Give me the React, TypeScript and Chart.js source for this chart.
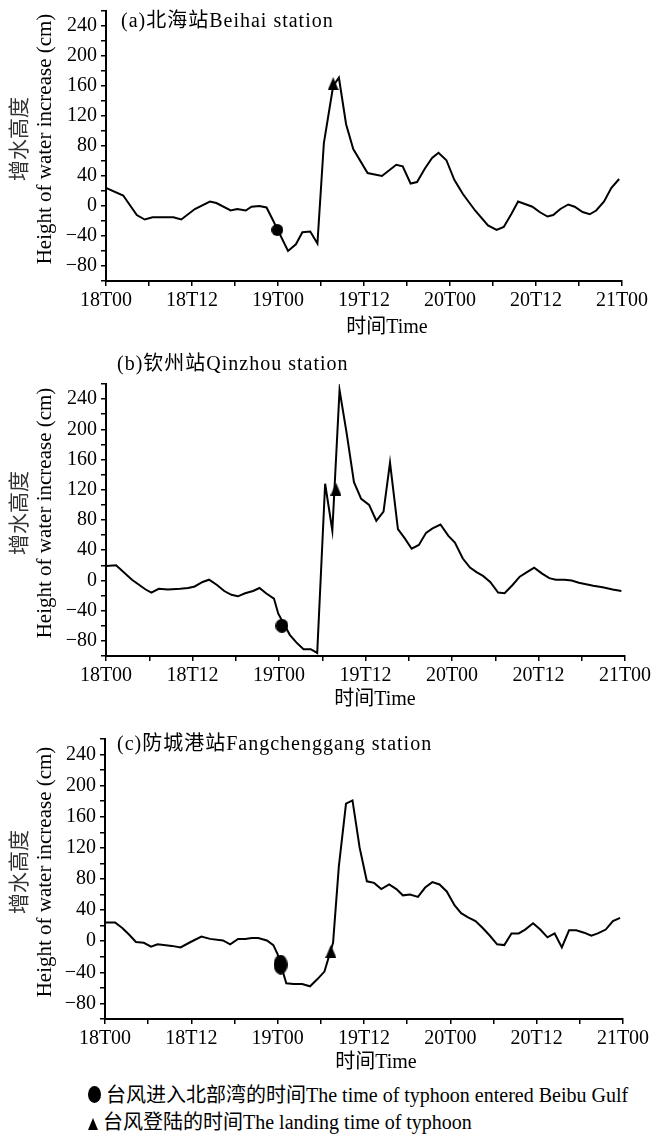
import React, { useEffect, useRef } from 'react';
import { Chart, registerables } from 'chart.js';

Chart.register(...registerables);

// ---------- data (hours after 18T00, surge in cm) ----------
const hoursA = [0, 2.4, 4.3, 5.4, 6.5, 9.4, 10.5, 12.4, 14.5, 15.4, 17.4, 18.3, 19.5, 20.3, 21.4, 22.4, 23.3, 25.4, 26.5, 27.4, 28.5, 29.5, 30.4, 31.7, 32.5, 33.5, 34.5, 36.5, 38.5, 40.5, 41.4, 42.5, 43.4, 44.5, 45.5, 46.4, 47.5, 48.6, 49.8, 51.5, 53.3, 54.5, 55.5, 56.6, 57.5, 59.5, 60.5, 61.6, 62.4, 63.4, 64.5, 65.4, 66.5, 67.5, 68.4, 69.5, 70.5, 71.6];
const surgeA = [24, 14, -12, -18, -15, -15, -18, -4, 6, 4, -6, -4, -6, -1, 0, -2, -19, -60, -51, -35, -34, -50, 84, 160, 171, 109, 76, 44, 40, 55, 53, 30, 32, 50, 64, 71, 61, 35, 16, -6, -26, -32, -28, -10, 6, -1, -8, -14, -12, -4, 2, -1, -8, -11, -6, 6, 24, 36];

const hoursB = [0, 1.4, 3.6, 5.5, 6.3, 7.3, 8.6, 10.3, 11.4, 12.3, 13.4, 14.3, 15.4, 16.4, 17.4, 18.3, 19.3, 20.4, 21.3, 22.2, 23.3, 23.9, 25.5, 26.4, 27.4, 28.4, 29.3, 30.4, 31.4, 32.4, 33.4, 34.4, 35.4, 36.5, 37.5, 38.5, 39.4, 40.5, 41.5, 42.4, 43.4, 44.4, 45.3, 46.4, 47.5, 48.4, 49.5, 50.5, 51.4, 52.3, 53.3, 54.4, 55.3, 56.4, 57.4, 58.4, 59.4, 60.5, 61.5, 62.4, 63.6, 64.6, 65.6, 66.6, 67.6, 68.9, 70.3, 71.5];
const surgeB = [19, 20, 1, -12, -16, -11, -12, -11, -10, -8, -2, 1, -6, -14, -19, -21, -17, -14, -10, -17, -24, -44, -72, -82, -91, -91, -96, 128, 66, 252, 194, 130, 108, 100, 79, 91, 156, 68, 55, 42, 47, 63, 69, 74, 59, 50, 29, 17, 11, 6, -2, -16, -17, -6, 5, 11, 17, 9, 3, 1, 1, 0, -3, -5, -7, -9, -12, -14];

const hoursC = [0, 1.4, 2.4, 3.3, 4.3, 5.4, 6.4, 7.3, 9.3, 10.5, 11.9, 13.4, 14.6, 16.4, 17.4, 18.5, 19.5, 20.4, 21.3, 22.5, 23.4, 24, 25.2, 26.2, 27.4, 28.5, 29.5, 30.5, 31.7, 32.5, 33.5, 34.4, 35.4, 36.4, 37.4, 38.4, 39.5, 40.5, 41.4, 42.4, 43.5, 44.5, 45.5, 46.5, 47.5, 48.6, 49.5, 50.4, 51.5, 52.5, 53.5, 54.5, 55.5, 56.5, 57.5, 58.4, 59.5, 60.5, 61.5, 62.5, 63.5, 64.5, 65.5, 66.6, 67.6, 68.5, 69.6, 70.6, 71.6];
const surgeC = [24, 24, 17, 9, -1, -2, -7, -4, -6, -8, -1, 6, 3, 1, -4, 3, 3, 4, 4, 1, -5, -17, -54, -55, -55, -58, -49, -39, -2, 96, 177, 181, 120, 77, 75, 67, 73, 67, 59, 60, 57, 69, 76, 73, 64, 46, 36, 31, 26, 17, 7, -4, -5, 10, 10, 15, 23, 15, 5, 10, -8, 14, 14, 11, 7, 10, 15, 26, 30];

// typhoon event markers per station (a, b, c)
const enterHours = [23.9, 24.4, 24.4];
const enterValues = [-32, -60, -30];
const landHours = [31.7, 31.9, 31.4];
const landValues = [163, 121, -13];

const xTickLabels = ['18T00', '18T12', '19T00', '19T12', '20T00', '20T12', '21T00'];
const yLabelMin = -80;
const yLabelMax = 240;
const panelTitles = ['(a)北海站Beihai station', '(b)钦州站Qinzhou station', '(c)防城港站Fangchenggang station'];
const xTitle = '时间Time';
const yTitleCn = '增水高度';
const yTitleEn = 'Height of water increase (cm)';
const legendEnter = '台风进入北部湾的时间The time of typhoon entered Beibu Gulf';
const legendLand = '台风登陆的时间The landing time of typhoon';

const FONT_FAMILY = '"Liberation Serif", "Noto Sans CJK SC", serif';

type Layout = {
  top: number; height: number; areaTop: number; areaBottom: number; left: number; right: number;
  titleX: number; titleY: number; xTitleX: number; xTitleY: number;
  circleW: number; circleH: number;
};

const layouts: Layout[] = [
  { top: 0, height: 340, areaTop: 11, areaBottom: 281, left: 106, right: 622, titleX: 121, titleY: 22, xTitleX: 387, xTitleY: 328, circleW: 12, circleH: 12 },
  { top: 340, height: 370, areaTop: 44, areaBottom: 316, left: 106, right: 625, titleX: 117, titleY: 25, xTitleX: 375, xTitleY: 360, circleW: 13, circleH: 14 },
  { top: 710, height: 365, areaTop: 29, areaBottom: 309, left: 105, right: 623, titleX: 117, titleY: 35, xTitleX: 376, xTitleY: 353, circleW: 14, circleH: 20 },
];

const series = [
  { hours: hoursA, surge: surgeA },
  { hours: hoursB, surge: surgeB },
  { hours: hoursC, surge: surgeC },
];

function makeEllipse(w: number, h: number) {
  const c = document.createElement('canvas');
  c.width = w; c.height = h;
  const g = c.getContext('2d')!;
  g.fillStyle = '#000';
  g.beginPath();
  g.ellipse(w / 2, h / 2, w / 2, h / 2, 0, 0, Math.PI * 2);
  g.fill();
  return c;
}

function makeTriangle(w: number, h: number) {
  const c = document.createElement('canvas');
  c.width = w; c.height = h;
  const g = c.getContext('2d')!;
  g.fillStyle = '#000';
  g.beginPath();
  g.moveTo(w / 2, 0);
  g.lineTo(w, h);
  g.lineTo(0, h);
  g.closePath();
  g.fill();
  return c;
}

function Panel({ idx }: { idx: number }) {
  const ref = useRef<HTMLCanvasElement | null>(null);
  const L = layouts[idx];
  useEffect(() => {
    const canvas = ref.current;
    if (!canvas) return;
    const s = series[idx];
    const tickFont = { family: FONT_FAMILY, size: 20 };
    const textPlugin = {
      id: 'panelTexts',
      afterDraw(chart: any) {
        const ctx = chart.ctx as CanvasRenderingContext2D;
        const a = chart.chartArea;
        ctx.save();
        ctx.fillStyle = '#000';
        ctx.font = `20px ${FONT_FAMILY}`;
        ctx.textBaseline = 'middle';
        ctx.textAlign = 'left';
        (ctx as any).letterSpacing = '1px';
        ctx.fillText(panelTitles[idx], L.titleX, L.titleY);
        (ctx as any).letterSpacing = '0px';
        ctx.textAlign = 'center';
        ctx.fillText(xTitle, L.xTitleX, L.xTitleY);
        const cy = (a.top + a.bottom) / 2 - 7;
        ctx.translate(20, cy);
        ctx.rotate(-Math.PI / 2);
        ctx.font = `21px ${FONT_FAMILY}`;
        ctx.fillStyle = '#333';
        ctx.fillText(yTitleCn, 0, 0);
        ctx.fillStyle = '#000';
        ctx.fillText(yTitleEn, 0, 25);
        ctx.restore();
      },
    };
    const chart = new Chart(canvas, {
      type: 'line',
      data: {
        datasets: [
          {
            data: s.hours.map((h, i) => ({ x: h, y: s.surge[i] })),
            borderColor: '#000',
            borderWidth: 2,
            pointRadius: 0,
            tension: 0,
            fill: false,
          },
          {
            type: 'scatter',
            data: [{ x: enterHours[idx], y: enterValues[idx] }],
            pointStyle: makeEllipse(L.circleW, L.circleH) as any,
            pointRadius: 7,
          },
          {
            type: 'scatter',
            data: [{ x: landHours[idx], y: landValues[idx] }],
            pointStyle: makeTriangle(11, 13) as any,
            pointRadius: 7,
          },
        ] as any,
      },
      options: {
        animation: false,
        responsive: false,
        maintainAspectRatio: false,
        layout: { padding: { top: L.areaTop, right: 655 - L.right, bottom: 0, left: 0 } },
        plugins: { legend: { display: false }, tooltip: { enabled: false }, title: { display: false } },
        scales: {
          x: {
            type: 'linear',
            min: 0,
            max: 72,
            ticks: {
              stepSize: 6,
              maxTicksLimit: 100,
              autoSkip: false,
              maxRotation: 0,
              padding: 3,
              color: '#000',
              font: tickFont,
              callback: (v: any) => (Number(v) % 12 === 0 ? xTickLabels[Number(v) / 12] : ''),
            },
            grid: { drawOnChartArea: false, drawTicks: true, tickLength: 5, color: '#000', lineWidth: 1.5 },
            border: { display: true, color: '#000', width: 2 },
            afterFit: (sc: any) => {
              sc.height = L.height - L.areaBottom;
              sc.paddingLeft = 0;
              sc.paddingRight = 0;
            },
          },
          y: {
            type: 'linear',
            min: -100,
            max: 260,
            ticks: {
              stepSize: 20,
              maxTicksLimit: 100,
              autoSkip: false,
              padding: 4,
              color: '#000',
              font: tickFont,
              callback: (v: any) => {
                const n = Number(v);
                if (n % 40 !== 0 || n < yLabelMin || n > yLabelMax) return '';
                return n < 0 ? '\u2212' + Math.abs(n) : String(n);
              },
            },
            grid: { drawOnChartArea: false, drawTicks: true, tickLength: 5, color: '#000', lineWidth: 1.5 },
            border: { display: true, color: '#000', width: 2 },
            afterFit: (sc: any) => {
              sc.width = L.left;
              sc.paddingTop = 0;
              sc.paddingBottom = 0;
            },
          },
        },
      } as any,
      plugins: [textPlugin],
    });
    return () => chart.destroy();
  }, [idx]);
  return (
    <canvas
      ref={ref}
      width={655}
      height={L.height}
      style={{ position: 'absolute', left: 0, top: L.top, width: 655, height: L.height, display: 'block' }}
    />
  );
}

export default function App() {
  const legendText: React.CSSProperties = {
    position: 'absolute',
    fontFamily: FONT_FAMILY,
    fontSize: 20,
    color: '#000',
    whiteSpace: 'nowrap',
    lineHeight: '22px',
  };
  return (
    <div style={{ position: 'absolute', left: 0, top: 0, width: 655, height: 1135, background: '#fff', overflow: 'hidden' }}>
      <Panel idx={0} />
      <Panel idx={1} />
      <Panel idx={2} />
      <div style={{ position: 'absolute', left: 88, top: 1086, width: 13, height: 17, borderRadius: '50%', background: '#000' }} />
      <div style={{ ...legendText, left: 106, top: 1084 }}>{legendEnter}</div>
      <div
        style={{
          position: 'absolute', left: 88, top: 1118, width: 0, height: 0,
          borderLeft: '5px solid transparent', borderRight: '5px solid transparent', borderBottom: '12px solid #000',
        }}
      />
      <div style={{ ...legendText, left: 103, top: 1111 }}>{legendLand}</div>
    </div>
  );
}
